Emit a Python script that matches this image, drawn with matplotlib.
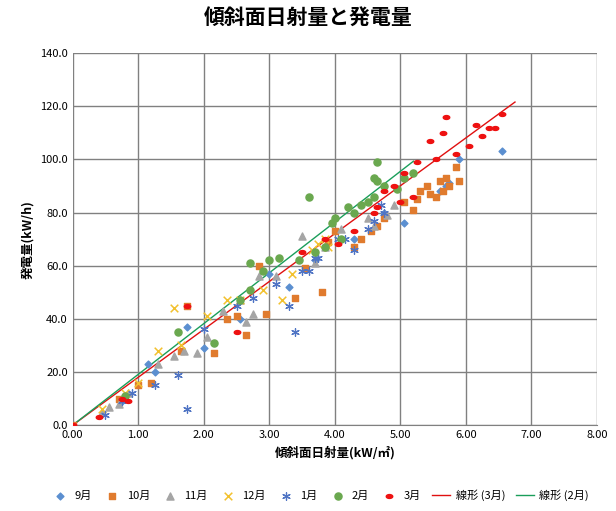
import numpy as np
import matplotlib
matplotlib.use('Agg')
from matplotlib import pyplot as plt
from matplotlib.path import Path

plt.rcParams['font.family'] = 'Noto Sans CJK JP'

# (日射量, 発電量) per month
sep = [(0, 0), (0.75, 9), (1.15, 23), (1.25, 20), (1.75, 37), (2.0, 29), (2.55, 40), (3.0, 57), (3.3, 52),
       (3.7, 62), (4.3, 70), (4.75, 80), (5.05, 76), (5.6, 88), (5.7, 90), (5.75, 91), (5.9, 100), (6.55, 103)]
oct_ = [(0, 0), (0.7, 10), (1.0, 15), (1.2, 16), (1.65, 28), (1.75, 45), (2.15, 27), (2.35, 40), (2.5, 41),
        (2.65, 34), (2.85, 60), (2.95, 42), (3.4, 48), (3.55, 59), (3.8, 50), (3.9, 69), (4.0, 73), (4.3, 67),
        (4.4, 70), (4.55, 73), (4.65, 75), (4.75, 78), (5.05, 84), (5.2, 81), (5.25, 85), (5.3, 88), (5.4, 90),
        (5.45, 87), (5.55, 86), (5.6, 92), (5.65, 88), (5.7, 93), (5.75, 90), (5.85, 97), (5.9, 92)]
nov = [(0.45, 5), (0.55, 7), (0.7, 8), (0.85, 12), (1.3, 23), (1.55, 26), (1.7, 28), (1.9, 27), (2.05, 33),
       (2.3, 43), (2.55, 47), (2.65, 39), (2.75, 42), (2.85, 56), (3.1, 56), (3.5, 71), (3.7, 61), (3.85, 67),
       (4.1, 74), (4.5, 78), (4.6, 75), (4.8, 79), (4.9, 83)]
dec = [(0.45, 6), (0.8, 12), (1.0, 16), (1.3, 28), (1.55, 44), (1.65, 30), (2.05, 41), (2.35, 47), (2.55, 47),
       (2.9, 51), (3.2, 47), (3.35, 57), (3.65, 66), (3.75, 68), (3.85, 70), (3.9, 67)]
jan = [(0.5, 4), (0.75, 9), (0.9, 12), (1.25, 15), (1.6, 19), (1.75, 6), (2.0, 36), (2.5, 45), (2.75, 48),
       (3.1, 53), (3.3, 45), (3.4, 35), (3.5, 58), (3.6, 58), (3.7, 63), (3.75, 63), (4.05, 70), (4.15, 70),
       (4.3, 66), (4.5, 74), (4.6, 77), (4.7, 83), (4.75, 80)]
feb = [(0.8, 11), (1.6, 35), (2.15, 31), (2.55, 47), (2.7, 51), (2.7, 61), (2.9, 58), (3.0, 62), (3.15, 63),
       (3.45, 62), (3.6, 86), (3.7, 65), (3.85, 67), (3.95, 76), (4.0, 78), (4.1, 70), (4.2, 82), (4.3, 80),
       (4.4, 83), (4.5, 84), (4.6, 86), (4.6, 93), (4.65, 92), (4.65, 99), (4.75, 90), (4.95, 89), (5.05, 93),
       (5.2, 95)]
mar = [(0, 0), (0.4, 3), (0.75, 10), (0.85, 9), (1.75, 45), (2.5, 35), (3.5, 65), (3.85, 70), (4.05, 68),
       (4.3, 73), (4.6, 80), (4.65, 82), (4.75, 88), (4.9, 90), (5.0, 84), (5.05, 95), (5.2, 86), (5.25, 99),
       (5.45, 107), (5.55, 100), (5.65, 110), (5.7, 116), (5.85, 102), (6.05, 105), (6.15, 113), (6.25, 109),
       (6.35, 112), (6.45, 112), (6.55, 117)]

# flat ellipse marker for March
t = np.linspace(0, 2 * np.pi, 25)
ellipse = Path(np.column_stack([np.cos(t), 0.6 * np.sin(t)]), closed=True)

series = [
    ('9月', sep, dict(marker='D', color='#5b8fd0', s=12)),
    ('10月', oct_, dict(marker='s', color='#e07b2e', s=24)),
    ('11月', nov, dict(marker='^', color='#a5a5a5', s=26)),
    ('12月', dec, dict(marker='x', color='#f2c12e', s=30, linewidths=1.1)),
    ('1月', jan, dict(marker=(6, 2, 0), color='#4f74c4', s=30, linewidths=0.9)),
    ('2月', feb, dict(marker='o', color='#6aa84f', s=26)),
    ('3月', mar, dict(marker=ellipse, color='#ee1111', s=22)),
]

fig = plt.figure(figsize=(6.16, 5.11), dpi=100)
ax = fig.add_axes([0.118, 0.168, 0.851, 0.728])

for name, pts, style in series:
    a = np.array(pts)
    ax.scatter(a[:, 0], a[:, 1], label=name, zorder=3, **style)


def origin_fit(pts, xmax, color, label):
    a = np.array(pts)
    k = (a[:, 0] * a[:, 1]).sum() / (a[:, 0] ** 2).sum()
    xs = np.array([0, xmax])
    ax.plot(xs, k * xs, color=color, lw=1, label=label, zorder=2)


origin_fit(mar, 6.75, '#e01010', '線形 (3月)')
origin_fit(feb, 5.2, '#1a9e5a', '線形 (2月)')

ax.set_xlim(0, 8)
ax.set_ylim(0, 140)
ax.set_xticks(np.arange(0, 8.01, 1))
ax.set_yticks(np.arange(0, 140.1, 20))
ax.xaxis.set_major_formatter(lambda v, p: f'{v:.2f}')
ax.yaxis.set_major_formatter(lambda v, p: f'{v:.1f}')
ax.tick_params(labelsize=8, length=0)
ax.grid(color='#808080', lw=1)
ax.set_axisbelow(True)
for s in ax.spines.values():
    s.set_visible(False)
ax.spines['bottom'].set_visible(True)
ax.spines['bottom'].set_color('#808080')

ax.set_xlabel('傾斜面日射量(kW/㎡)', fontsize=9, fontweight='bold')
ax.set_ylabel('発電量(kW/h)', fontsize=9, fontweight='bold')
fig.suptitle('傾斜面日射量と発電量', fontsize=15, fontweight='bold', y=0.985)
fig.legend(loc='lower center', ncol=9, fontsize=8, frameon=False, bbox_to_anchor=(0.52, 0.0),
           handlelength=1.6, columnspacing=1.0, handletextpad=0.5)

fig.savefig('out.png')
